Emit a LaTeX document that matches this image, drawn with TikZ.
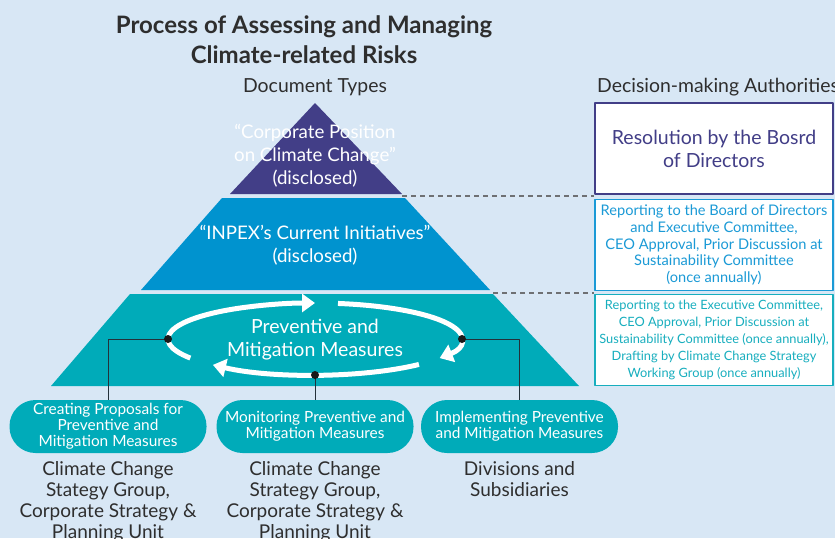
\documentclass[tikz,border=0pt]{standalone}
\usepackage{fontspec}
\setmainfont{Lato}
\usetikzlibrary{arrows.meta,positioning}
\definecolor{bgblue}{HTML}{D8E7F5}
\definecolor{tippurple}{HTML}{423E87}
\definecolor{midblue}{HTML}{0093CF}
\definecolor{baseteal}{HTML}{00ABB9}
\definecolor{authblue}{HTML}{1B9AD6}
\definecolor{authteal}{HTML}{17AEBE}
\definecolor{inkgray}{HTML}{2E2E2E}
\definecolor{linkgray}{HTML}{24313A}
\definecolor{dashgray}{HTML}{6E7073}
\tikzset{
  bandtext/.style={text=white,align=center,inner sep=0pt,font=\fontsize{18.7}{23}\selectfont},
  authbox/.style={draw,line width=1.3pt,fill=white,minimum width=238pt,minimum height=91pt,align=center,inner sep=0pt},
  pill/.style={fill=baseteal,rounded corners=26pt,minimum width=197pt,minimum height=53pt,text=white,align=center,inner sep=0pt,font=\fontsize{15.4}{16}\selectfont},
  unit/.style={text=inkgray,align=center,anchor=north,inner sep=0pt,font=\fontsize{19}{21}\selectfont},
  link/.style={draw=linkgray,line width=1pt},
  loop/.style={white,line width=5pt,-{Triangle[length=13pt,width=18pt]}},
  dashline/.style={draw=dashgray,line width=1.5pt,dash pattern=on 5pt off 4pt}
}
\begin{document}
\begin{tikzpicture}[x=1pt,y=-1pt,line join=round]
  \useasboundingbox (0,0) rectangle (835,538);
  \fill[bgblue] (0,0) rectangle (835,538);
  % pyramid bands
  \path
  (315,103) coordinate (A)
  (230,194) coordinate (B1l) (402,194) coordinate (B1r)
  (222,198) coordinate (T2l) (405,198) coordinate (T2r)
  (141,290) coordinate (B2l) (490,290) coordinate (B2r)
  (130,294) coordinate (T3l) (493,294) coordinate (T3r)
  (51,386) coordinate (B3l) (579,386) coordinate (B3r);
  \fill[tippurple] (A)--(B1r)--(B1l)--cycle;
  \fill[midblue] (T2l)--(T2r)--(B2r)--(B2l)--cycle;
  \fill[baseteal] (T3l)--(T3r)--(B3r)--(B3l)--cycle;
  % headings
  \node[text=inkgray,align=center,font=\fontsize{24}{30}\bfseries\selectfont] (title) at (304,40)
    {Process of Assessing and Managing\\Climate-related Risks};
  \node[text=inkgray,font=\fontsize{19.4}{22}\selectfont] (doctypes) at (315,87) {Document Types};
  \node[text=inkgray,anchor=west,inner sep=0pt,font=\fontsize{19.4}{22}\selectfont] (authhead) at (597,87) {Decision-making Authorities};
  % band texts
  \node[bandtext] (position) at (315,156) {“Corporate Position\\on Climate Change”\\(disclosed)};
  \node[bandtext] (initiatives) at (315,245.5) {“INPEX’s Current Initiatives”\\(disclosed)};
  % authorities
  \node[authbox,draw=tippurple,text=tippurple,font=\fontsize{19.5}{23}\selectfont] (resolution) at (714,148.5)
    {Resolution by the Bosrd\\of Directors};
  \node[authbox,draw=authblue,text=authblue,font=\fontsize{14.6}{16.8}\selectfont] (boardrep) at (714,245)
    {Reporting to the Board of Directors\\and Executive Committee,\\CEO Approval, Prior Discussion at\\Sustainability Committee\\(once annually)};
  \node[authbox,draw=authteal,text=authteal,font=\fontsize{12.8}{16.8}\selectfont] (execrep) at (714,340)
    {Reporting to the Executive Committee,\\CEO Approval, Prior Discussion at\\Sustainability Committee (once annually),\\Drafting by Climate Change Strategy\\Working Group (once annually)};
  \draw[dashline] (B1r)++(0,2) -- (resolution.south west |- 0,196);
  \draw[dashline] (T3r)++(0,-1) -- (execrep.north west |- 0,293);
  % measures cycle
  \coordinate (loopc) at (315,339);
  \draw[loop] ([shift={(loopc)}]148:147 and 36) arc[start angle=148,end angle=270,x radius=147,y radius=36];
  \draw[loop] ([shift={(loopc)}]279:147 and 36) arc[start angle=279,end angle=392,x radius=147,y radius=36];
  \draw[loop] ([shift={(loopc)}]45:147 and 36) arc[start angle=45,end angle=134,x radius=147,y radius=36];
  \node[bandtext,font=\fontsize{19.5}{23}\selectfont] (measures) at (315,339.5) {Preventive and\\Mitigation Measures};
  % roles
  \node[pill] (creating) at (108,426.5) {Creating Proposals for\\Preventive and\\Mitigation Measures};
  \node[pill] (monitoring) at (315,426.5) {Monitoring Preventive and\\Mitigation Measures};
  \node[pill] (implementing) at (519.5,426.5) {Implementing Preventive\\and Mitigation Measures};
  \node[unit] (ccsg1) at (108,461) {Climate Change\\Stategy Group,\\Corporate Strategy \&\\Planning Unit};
  \node[unit] (ccsg2) at (315,461) {Climate Change\\Strategy Group,\\Corporate Strategy \&\\Planning Unit};
  \node[unit] (divisions) at (519.5,461) {Divisions and\\Subsidiaries};
  \coordinate (dl) at (168,339);
  \coordinate (dr) at (462,339);
  \coordinate (db) at (315,375);
  \draw[link] (dl) -| (creating.north);
  \draw[link] (db) -- (monitoring.north);
  \draw[link] (dr) -| (implementing.north);
  \foreach \p in {dl,dr,db}
  \fill[black!90] (\p) circle (4pt);
\end{tikzpicture}
\end{document}
